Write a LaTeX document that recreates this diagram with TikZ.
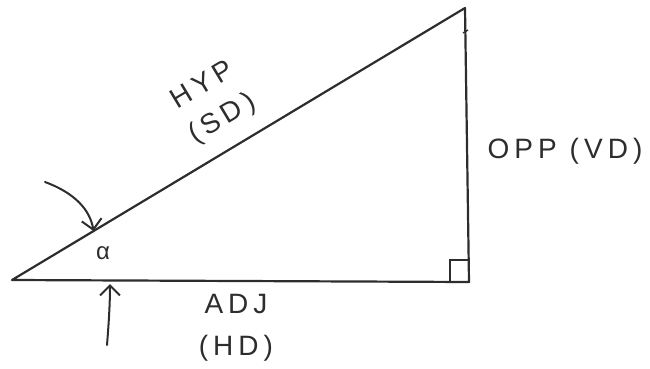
\documentclass[tikz,border=0pt]{standalone}
\usepackage{fontspec}
\setmainfont{Liberation Sans}[LetterSpace=18]
\usepackage{tikz}
\usetikzlibrary{arrows.meta, calc}
\definecolor{pencilgray}{RGB}{45, 45, 45}
\tikzset{
  sideline/.style={pencilgray, line width=2.2pt, line join=round, line cap=round},
  pointer/.style={pencilgray, line width=2pt, line cap=round,
    -{Straight Barb[length=10pt, width=20pt, line width=2pt]}},
  sidelabel/.style={pencilgray, font=\fontsize{28}{38}\selectfont, inner sep=0pt, align=center}
}

\begin{document}
\begin{tikzpicture}[x=1pt, y=-1pt]
        \useasboundingbox (0,0) rectangle (650,369);
        % Triangle corners
        \coordinate (left) at (12,280);
        \coordinate (right) at (469,282);
        \coordinate (top) at (465,8);
        \draw[sideline] (left) -- (right) -- (top) -- cycle;

        % Right angle box and mark at the top
        \draw[pencilgray, line width=1.8pt] (450,282) -- (450,260) -- (469,260);
        \draw[pencilgray, line width=1.4pt] (463,33) -- (468,30);

        % Side labels
        \node[sidelabel, rotate=31] (hyp) at (213,103) {HYP\\(SD)};
        \node[sidelabel] (opp) at (565,151) {OPP (VD)};
        \node[sidelabel, font=\fontsize{28}{42}\selectfont] (adj) at (236,328) {ADJ\\(HD)};

        % Angle and arrows
        \node[pencilgray, font=\fontsize{24}{26}\selectfont] (alpha) at (103,253) {α};
        \coordinate (hyptip) at ($(left)!0.18!(top)$);
        \coordinate (adjtip) at (110,284);
        \coordinate (tailone) at (45,182);
        \coordinate (tailtwo) at (107,345);
        \draw[pointer] (tailone) .. controls (75,193) and (90,210) .. (hyptip);
        \draw[pointer] (tailtwo) .. controls (109,320) and (110,302) .. (adjtip);
      \end{tikzpicture}
\end{document}
